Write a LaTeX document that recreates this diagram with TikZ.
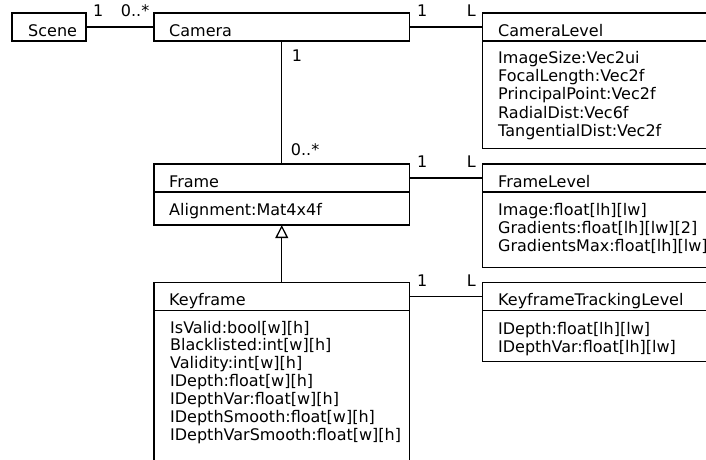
\documentclass[tikz,border=0pt]{standalone}
\usepackage{fontspec}
\setmainfont{DejaVu Sans}
\usetikzlibrary{arrows.meta}
\begin{document}
\begin{tikzpicture}[x=1pt,y=-1pt,
  box/.style={draw,line width=1.3pt,rectangle,inner sep=0pt,outer sep=0pt,anchor=north west},
  txt/.style={font=\fontsize{16}{19}\selectfont,inner sep=0pt,anchor=base west},
  conn/.style={line width=1.3pt},
  inherit/.style={line width=1.3pt,-{Triangle[open,length=13pt,width=12.7pt,fill=white]}}]
\clip (0,0) rectangle (706,459);
\fill[white] (0,0) rectangle (706,459);
% Scene
\node[box,minimum width=74pt,minimum height=28pt] (scene) at (12,13) {};
\node[txt] (sceneT) at (28,36) {Scene};
% Camera
\node[box,minimum width=255.5pt,minimum height=28pt] (camera) at (154,13) {};
\node[txt] (cameraT) at (169,36) {Camera};
% CameraLevel
\node[box,minimum width=248pt,minimum height=28pt] (camlevel) at (482.3,13) {};
\node[box,minimum width=248pt,minimum height=107.3pt] (camlevelb) at (482.3,41) {};
\node[txt] (camlevelT) at (498,36) {CameraLevel};
\foreach \t [count=\i] in {ImageSize:Vec2ui,FocalLength:Vec2f,PrincipalPoint:Vec2f,RadialDist:Vec6f,TangentialDist:Vec2f}
  \node[txt] (cl\i) at (498,{63.3+18.3*(\i-1)}) {\t};
% Frame
\node[box,minimum width=255.5pt,minimum height=28pt] (frame) at (154,164) {};
\node[box,minimum width=255.5pt,minimum height=33pt] (frameb) at (154,192) {};
\node[txt] (frameT) at (169,187) {Frame};
\node[txt] (frameA) at (169,215) {Alignment:Mat4x4f};
% FrameLevel
\node[box,minimum width=248pt,minimum height=28pt] (framelevel) at (482.3,164) {};
\node[box,minimum width=248pt,minimum height=75.3pt] (framelevelb) at (482.3,192) {};
\node[txt] (framelevelT) at (498,187) {FrameLevel};
\foreach \t [count=\i] in {Image:float[lh][lw],Gradients:float[lh][lw][2],GradientsMax:float[lh][lw]}
  \node[txt] (fl\i) at (498,{215+18.2*(\i-1)}) {\t};
% Keyframe
\node[box,minimum width=255.5pt,minimum height=28pt] (keyframe) at (154,282.8) {};
\node[box,minimum width=255.5pt,minimum height=180pt] (keyframeb) at (154,310.8) {};
\node[txt] (keyframeT) at (169,305.5) {Keyframe};
\foreach \t [count=\i] in {IsValid:bool[w][h],Blacklisted:int[w][h],Validity:int[w][h],IDepth:float[w][h],IDepthVar:float[w][h],IDepthSmooth:float[w][h],IDepthVarSmooth:float[w][h]}
  \node[txt] (kf\i) at (170,{333+17.9*(\i-1)}) {\t};
% KeyframeTrackingLevel
\node[box,minimum width=248pt,minimum height=28pt] (ktl) at (482.3,282.8) {};
\node[box,minimum width=248pt,minimum height=51pt] (ktlb) at (482.3,310.8) {};
\node[txt] (ktlT) at (498,305.5) {KeyframeTrackingLevel};
\foreach \t [count=\i] in {IDepth:float[lh][lw],IDepthVar:float[lh][lw]}
  \node[txt] (kt\i) at (498,{334.3+18*(\i-1)}) {\t};
% connectors
\draw[conn] (scene.east) -- (camera.west);
\draw[conn] (camera.east) -- (camlevel.west);
\draw[conn] (camera.south) -- (frame.north);
\draw[conn] (frame.east) -- (framelevel.west);
\draw[conn] (keyframe.east) -- (ktl.west);
\draw[inherit] (keyframe.north) -- (frameb.south);
% multiplicities
\node[txt] (m1) at (93,16.7) {1};
\node[txt] (m2) at (120.7,16.7) {0..*};
\node[txt] (m3) at (291.7,61.7) {1};
\node[txt] (m4) at (290.7,155) {0..*};
\node[txt] (m5) at (417,16.7) {1};
\node[txt] (m6) at (466.7,16.7) {L};
\node[txt] (m7) at (417,167.3) {1};
\node[txt] (m8) at (466.7,167.3) {L};
\node[txt] (m9) at (417,286.7) {1};
\node[txt] (m10) at (466.7,286.7) {L};
\end{tikzpicture}
\end{document}
